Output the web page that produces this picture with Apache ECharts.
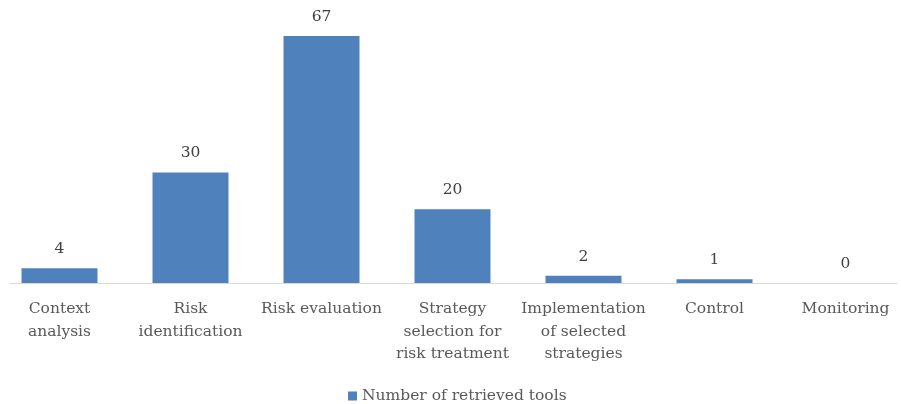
<!DOCTYPE html>
<html><head><meta charset="utf-8">
<script src="https://cdn.jsdelivr.net/npm/echarts@6/dist/echarts.min.js"></script>
<style>html,body{margin:0;padding:0;background:#fff;overflow:hidden;width:901px;height:404px;position:relative}#c{position:absolute;left:-6px;top:0;width:917px;height:404px}</style>
</head><body><div id="c"></div>
<script>
const categories = ["Context\nanalysis","Risk\nidentification","Risk evaluation","Strategy\nselection for\nrisk treatment","Implementation\nof selected\nstrategies","Control","Monitoring"];
const values = [4,30,67,20,2,1,0];
const seriesName = "Number of retrieved tools";
const font = "'DejaVu Serif', serif";
const chart = echarts.init(document.getElementById('c'), null, {renderer:'canvas'});
chart.setOption({
  animation:false,
  textStyle:{fontFamily:font},
  grid:[
    {left:0, right:0, top:36, bottom:121, containLabel:false},
    {left:16, right:14, top:36, bottom:121, containLabel:false}
  ],
  legend:{
    bottom:-5, left:349, itemWidth:9, itemHeight:9, icon:'rect', itemGap:4,
    textStyle:{fontFamily:font, fontSize:15.5, color:'#595959'},
    data:[seriesName]
  },
  xAxis:[
    {type:'category', gridIndex:0, data:categories,
      axisLine:{show:false}, axisTick:{show:false},
      axisLabel:{interval:0, margin:15, fontFamily:font, fontSize:15.5, color:'#595959', lineHeight:22.5}},
    {type:'category', gridIndex:1, data:categories,
      axisLine:{show:true, lineStyle:{color:'#d9d9d9', width:1}}, axisTick:{show:false},
      axisLabel:{show:false}}
  ],
  yAxis:[
    {type:'value', gridIndex:0, min:0, max:67, show:false, splitLine:{show:false}},
    {type:'value', gridIndex:1, min:0, max:67, show:false, splitLine:{show:false}}
  ],
  series:[{
    name:seriesName, type:'bar', xAxisIndex:0, yAxisIndex:0, data:values,
    barWidth:76, itemStyle:{color:'#4f81bd'},
    label:{show:true, position:'top', distance:11, fontFamily:font, fontSize:15.5, color:'#404040'}
  }]
});
</script></body></html>
